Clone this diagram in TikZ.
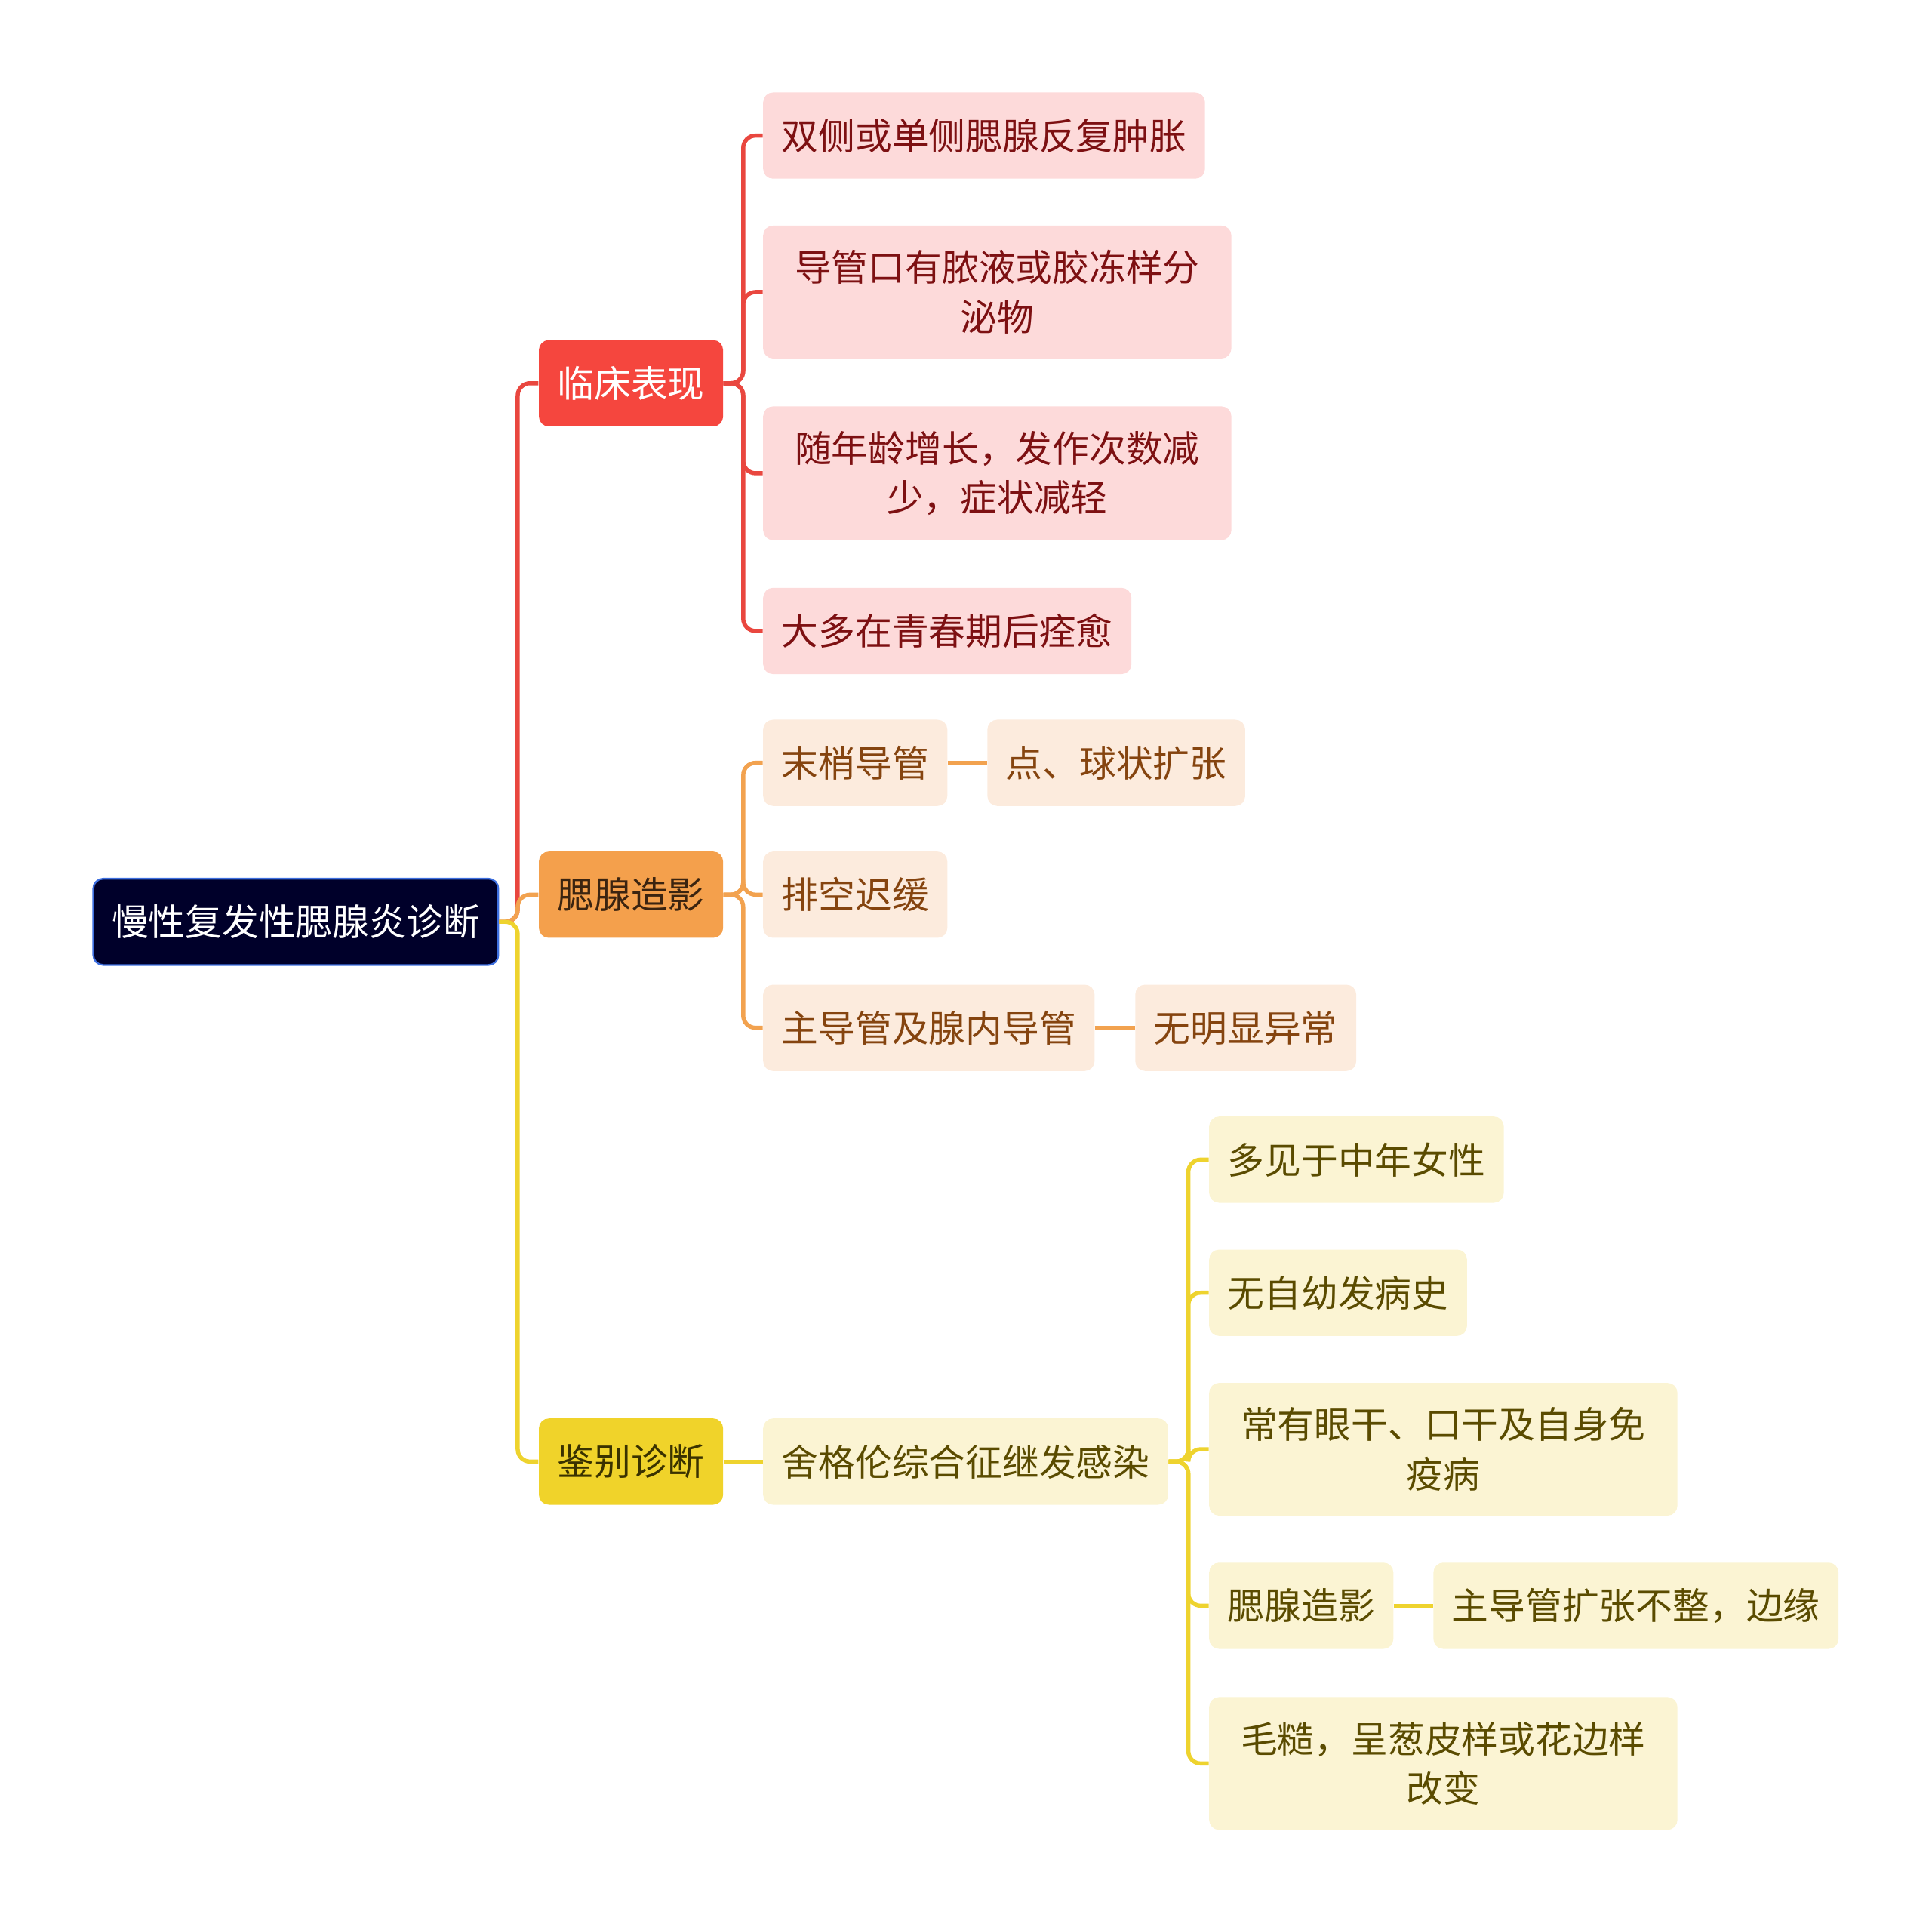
\documentclass[tikz,border=0pt]{standalone}
\usepackage{fontspec}
\setmainfont{Noto Sans CJK SC}
\usepackage{xcolor}
\usetikzlibrary{positioning}

\definecolor{rootfill}{HTML}{00002A}
\definecolor{rootline}{HTML}{3D6FE0}
\definecolor{redmain}{HTML}{F5463E}
\definecolor{redline}{HTML}{E9473F}
\definecolor{redleaf}{HTML}{FDDADA}
\definecolor{redtext}{HTML}{7D1012}
\definecolor{orgmain}{HTML}{F4A04C}
\definecolor{orgline}{HTML}{F2A24F}
\definecolor{orgleaf}{HTML}{FCEBDD}
\definecolor{orgtext}{HTML}{85440F}
\definecolor{orgdark}{HTML}{3B2410}
\definecolor{ylwmain}{HTML}{F0D32A}
\definecolor{ylwline}{HTML}{EED32E}
\definecolor{ylwleaf}{HTML}{FBF4D3}
\definecolor{ylwtext}{HTML}{5A4B00}
\definecolor{ylwdark}{HTML}{3A3200}

\tikzset{
  box/.style={rounded corners=0.16cm, inner xsep=0.3cm, inner ysep=0.4cm,
    minimum height=1.4cm, align=center, anchor=west,
    font=\fontsize{17}{22.8}\selectfont},
  rootbox/.style={box, fill=rootfill, draw=rootline, line width=0.8pt, text=white},
  redbox/.style={box, fill=redmain, text=white},
  orgbox/.style={box, fill=orgmain, text=orgdark},
  ylwbox/.style={box, fill=ylwmain, text=ylwdark},
  redleafbox/.style={box, fill=redleaf, text=redtext},
  orgleafbox/.style={box, fill=orgleaf, text=orgtext},
  ylwleafbox/.style={box, fill=ylwleaf, text=ylwtext},
  wide/.style={minimum width=7.6cm},
  link/.style={line width=1.9pt, rounded corners=0.2cm},
}

\begin{document}
\begin{tikzpicture}
  \useasboundingbox (0,0) rectangle (31.36,-31.22);

  % root and main branches
  \node[rootbox] (root) at (1.5,-14.96) {慢性复发性腮腺炎诊断};
  \node[redbox] (clin) at (8.74,-6.22) {临床表现};
  \node[orgbox] (sial) at (8.74,-14.52) {腮腺造影};
  \node[ylwbox] (diff) at (8.74,-23.72) {鉴别诊断};

  % clinical signs
  \node[redleafbox] (clin1) at (12.38,-2.2) {双侧或单侧腮腺反复肿胀};
  \node[redleafbox, wide] (clin2) at (12.38,-4.74) {导管口有脓液或胶冻样分\\泌物};
  \node[redleafbox, wide] (clin3) at (12.38,-7.68) {随年龄增长，发作次数减\\少，症状减轻};
  \node[redleafbox] (clin4) at (12.38,-10.24) {大多在青春期后痊愈};

  % sialography
  \node[orgleafbox] (sial1) at (12.38,-12.38) {末梢导管};
  \node[orgleafbox] (sial1a) at (16.02,-12.38) {点、球状扩张};
  \node[orgleafbox] (sial2) at (12.38,-14.52) {排空迟缓};
  \node[orgleafbox] (sial3) at (12.38,-16.68) {主导管及腺内导管};
  \node[orgleafbox] (sial3a) at (18.42,-16.68) {无明显异常};

  % differential diagnosis
  \node[ylwleafbox] (sjog) at (12.38,-23.72) {舍格伦综合征继发感染};
  \node[ylwleafbox] (sjog1) at (19.62,-18.82) {多见于中年女性};
  \node[ylwleafbox] (sjog2) at (19.62,-20.98) {无自幼发病史};
  \node[ylwleafbox, wide] (sjog3) at (19.62,-23.52) {常有眼干、口干及自身免\\疫病};
  \node[ylwleafbox] (sjog4) at (19.62,-26.06) {腮腺造影};
  \node[ylwleafbox] (sjog4a) at (23.26,-26.06) {主导管扩张不整，边缘};
  \node[ylwleafbox, wide] (sjog5) at (19.62,-28.62) {毛糙，呈葱皮样或花边样\\改变};

  % connectors
  \draw[link, redline] (root.east) -- ++(0.3,0) |- (clin.west);
  \draw[link, orgline] (root.east) -- ++(0.3,0) |- (sial.west);
  \draw[link, ylwline] (root.east) -- ++(0.3,0) |- (diff.west);

  \foreach \n in {clin1,clin2,clin3,clin4}
    \draw[link, redline] (clin.east) -- ++(0.32,0) |- (\n.west);
  \foreach \n in {sial1,sial2,sial3}
    \draw[link, orgline] (sial.east) -- ++(0.32,0) |- (\n.west);
  \draw[link, orgline] (sial1.east) -- (sial1a.west);
  \draw[link, orgline] (sial3.east) -- (sial3a.west);

  \draw[link, ylwline] (diff.east) -- (sjog.west);
  \foreach \n in {sjog1,sjog2,sjog3,sjog4,sjog5}
    \draw[link, ylwline] (sjog.east) -- ++(0.32,0) |- (\n.west);
  \draw[link, ylwline] (sjog4.east) -- (sjog4a.west);
\end{tikzpicture}
\end{document}
